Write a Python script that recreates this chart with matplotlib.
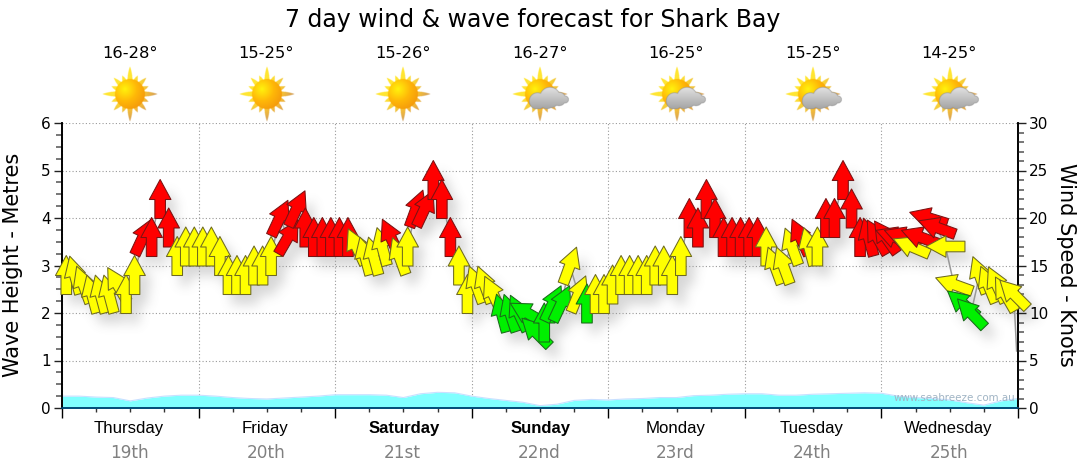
import numpy as np
import matplotlib
matplotlib.use('Agg')
import matplotlib.pyplot as plt
from matplotlib.collections import PolyCollection
from matplotlib.figure import Figure
from matplotlib.backends.backend_agg import FigureCanvasAgg
from matplotlib.transforms import IdentityTransform
from matplotlib.ticker import MultipleLocator

TITLE = '7 day wind & wave forecast for Shark Bay'
days = ['Thursday', 'Friday', 'Saturday', 'Sunday', 'Monday', 'Tuesday', 'Wednesday']
dates = ['19th', '20th', '21st', '22nd', '23rd', '24th', '25th']
weekend = ['Saturday', 'Sunday']
temps = ['16-28°', '15-25°', '15-26°', '16-27°', '16-25°', '15-25°', '14-25°']
cloudy = [False, False, False, True, True, True, True]

# wind speed (knots) of each arrow, 16 per day
speed_thu = [14, 14, 13, 12, 12, 12, 13, 12, 14, 18, 18, 22, 19, 16, 17, 17]
speed_fri = [17, 17, 16, 14, 14, 14, 15, 15, 16, 20, 18, 21, 19, 18, 18, 18]
speed_sat = [18, 18, 17, 16, 16, 17, 18, 16, 17, 21, 21, 24, 22, 18, 15, 12]
speed_sun = [13, 13, 12, 10, 10, 10, 10, 8, 9, 11, 11, 15, 12, 11, 12, 12]
speed_mon = [13, 14, 14, 14, 14, 15, 15, 14, 16, 20, 19, 22, 20, 18, 18, 18]
speed_tue = [18, 18, 17, 15, 15, 17, 18, 17, 17, 20, 20, 24, 21, 18, 18, 18]
speed_wed = [18, 18, 18, 17, 18, 20, 19, 17, 13, 11, 10, 14, 13, 13, 12, 12]

# heading of each arrow, degrees clockwise from straight up
head_thu = [0, -15, -20, -15, -15, -15, -30, 0, 0, 25, 0, 0, 0, 0, 0, 0]
head_fri = [0, 0, 0, 0, 0, 0, 0, 0, 0, 25, 30, 25, 0, 0, 0, 0]
head_sat = [0, 0, -25, -15, -15, -15, -25, -20, 0, 20, 25, 0, 0, 0, 0, 0]
head_sun = [-20, -20, -25, -15, -18, -25, -60, -45, 0, 25, 25, 20, 22, 0, 0, 0]
head_mon = [0, 0, 0, 0, 0, 0, 0, 0, 0, 0, 0, 0, 0, 0, 0, 0]
head_tue = [0, 0, 0, -20, -20, -20, -25, -15, 0, 0, 0, 0, 0, 0, -15, -30]
head_wed = [-35, -70, -70, -67, -70, -73, -70, -90, -70, -50, -44, -20, -22, -25, -30, -45]

# the thin speed line runs on past the last arrow
line_end_speed = [6]

# wave height (metres), every 3 hours
wave = [.25, .25, .23, .22, .15, .21, .25, .27, .27, .25, .22, .20, .19, .21, .23, .25,
        .28, .28, .28, .27, .22, .30, .33, .32, .25, .20, .16, .12, .05, .08, .16, .18,
        .17, .19, .20, .22, .22, .26, .27, .29, .30, .30, .27, .27, .29, .30, .31, .32,
        .31, .25, .22, .20, .17, .11, .06, .15, .20]

speed = speed_thu + speed_fri + speed_sat + speed_sun + speed_mon + speed_tue + speed_wed
heading = head_thu + head_fri + head_sat + head_sun + head_mon + head_tue + head_wed

W, H = 1080, 475
L, R, T, B = 62, 1018, 123, 408
POS = [L / W, 1 - B / H, (R - L) / W, (B - T) / H]

plt.rcParams['font.family'] = 'DejaVu Sans'
fig = plt.figure(figsize=(W / 100, H / 100), dpi=100, facecolor='white')
ax = fig.add_axes(POS)
ax.patch.set_alpha(0)
ax2 = ax.twinx()
ax2.patch.set_alpha(0)
ax.set_xlim(0, 7)
ax.set_ylim(0, 6)
ax2.set_ylim(0, 30)

# wave area
tw = np.arange(len(wave)) * 0.125
ax.fill_between(tw, 0, wave, color='#80FFFF', lw=0, zorder=1)
ax.plot(tw, wave, color='#C8E0FF', lw=0.8, zorder=1.1)

# grid
ax.set_axisbelow(True)
ax.xaxis.set_major_locator(MultipleLocator(1))
ax.xaxis.set_minor_locator(MultipleLocator(0.25))
ax.yaxis.set_major_locator(MultipleLocator(1))
ax.yaxis.set_minor_locator(MultipleLocator(0.25))
ax2.yaxis.set_major_locator(MultipleLocator(5))
ax2.yaxis.set_minor_locator(MultipleLocator(1))
ax.grid(True, which='major', color='#999999', lw=0.8, ls=(0, (1, 2)))
ax.tick_params(axis='x', which='major', length=7, width=1, color='black', labelbottom=False, direction='out')
ax.tick_params(axis='x', which='minor', length=3, width=1, color='#333333')
ax.tick_params(axis='y', which='major', length=6, width=1, color='#222222', labelsize=11, pad=2)
ax.tick_params(axis='y', which='minor', length=4, width=1.4, color='#777777')
ax2.tick_params(axis='y', which='major', length=6, width=1, color='#222222', labelsize=11, pad=2)
ax2.tick_params(axis='y', which='minor', length=4, width=1.4, color='#777777')
for a in (ax, ax2):
    a.spines['top'].set_visible(False)
    a.spines['left'].set_linewidth(1.2)
    a.spines['right'].set_linewidth(1.2)
    a.spines['bottom'].set_color('#004B78')
    a.spines['bottom'].set_linewidth(1.2)

# arrows
ARROW_LEN, HEAD_LEN, HEAD_HW, SHAFT_HW = 39.0, 20.0, 10.8, 5.3
base = np.array([(-SHAFT_HW, -ARROW_LEN / 2), (SHAFT_HW, -ARROW_LEN / 2),
                 (SHAFT_HW, ARROW_LEN / 2 - HEAD_LEN), (HEAD_HW, ARROW_LEN / 2 - HEAD_LEN),
                 (0, ARROW_LEN / 2), (-HEAD_HW, ARROW_LEN / 2 - HEAD_LEN),
                 (-SHAFT_HW, ARROW_LEN / 2 - HEAD_LEN)])


def shape(deg):
    a = np.radians(deg)
    rot = np.array([[np.cos(a), np.sin(a)], [-np.sin(a), np.cos(a)]])
    return base @ rot.T


def colour(s):
    return '#00F000' if s <= 11 else ('#FFFF00' if s <= 17 else '#FF0000')


def edge(s):
    return '#1A6A1A' if s <= 11 else ('#6E6A20' if s <= 17 else '#7A1212')


verts = [shape(h) for h in heading]
times = (np.arange(len(speed)) + 0.5) / 16
offsets = np.column_stack([times, speed])

ax2.plot(list(times) + [6.99], speed + line_end_speed, color='#999999', lw=1.1, zorder=2, clip_on=False)
arrows = PolyCollection(verts, offsets=offsets, offset_transform=ax2.transData,
                        transform=IdentityTransform(), facecolors=[colour(s) for s in speed],
                        edgecolors=[edge(s) for s in speed], linewidths=0.75, zorder=3)
arrows.set_clip_on(False)
ax2.add_collection(arrows)

# soft drop shadow of the arrows, rendered off-screen from the same collection
f2 = Figure(figsize=(W / 100, H / 100), dpi=100)
f2.patch.set_alpha(0)
FigureCanvasAgg(f2)
a2 = f2.add_axes(POS)
a2.set_xlim(0, 7)
a2.set_ylim(0, 30)
a2.axis('off')
sh = PolyCollection(verts, offsets=offsets, offset_transform=a2.transData,
                    transform=IdentityTransform(), facecolors='k', edgecolors='none')
sh.set_clip_on(False)
a2.add_collection(sh)
f2.canvas.draw()
al = np.asarray(f2.canvas.buffer_rgba())[:, :, 3].astype(float) / 255
al = np.roll(np.roll(al, 8, axis=1), 10, axis=0)
k = np.ones(11) / 11
for _ in range(3):
    al = np.apply_along_axis(lambda v: np.convolve(v, k, 'same'), 0, al)
    al = np.apply_along_axis(lambda v: np.convolve(v, k, 'same'), 1, al)
rgba = np.zeros(al.shape + (4,))
rgba[..., :3] = 0.4
rgba[..., 3] = al * 0.26
fig.figimage(rgba, 0, 0, origin='upper', zorder=-1)

# overlay in pixel coordinates for texts and icons
ov = fig.add_axes([0, 0, 1, 1], zorder=5)
ov.axis('off')
ov.patch.set_alpha(0)


def sun_image(cx, cy):
    S = 32
    n = 4 * 2 * S
    g = (np.arange(n) + 0.5) / 4 - S
    X, Y = np.meshgrid(g, g)
    r = np.hypot(X, Y)
    th = np.degrees(np.arctan2(Y, X)) % 360
    env = np.zeros_like(r)
    for i in range(16):
        ang = i * 22.5
        L_ = 27.5 if i % 4 == 0 else (23 if i % 2 == 0 else 20)
        w = 11.0
        d = np.abs((th - ang + 180) % 360 - 180)
        env = np.maximum(env, 13 + (L_ - 13) * np.clip(1 - d / w, 0, 1))
    img = np.zeros((n, n, 4))
    shade = np.clip((X + Y) / 44 + 0.35, 0, 1)
    f = np.clip((r - 14) / 14, 0, 1)[..., None]
    yel = np.array([1.0, 0.90, 0.20])
    ora = np.array([0.96, 0.70, 0.20])
    tip = np.array([0.80, 0.62, 0.40])
    col = yel + (ora - yel) * shade[..., None]
    img[..., :3] = col * (1 - f) + tip * f * shade[..., None] + col * f * (1 - shade[..., None])
    img[..., 3] = (r < env).astype(float)
    # disc
    rr = np.hypot(X + 5, Y + 5)
    t = np.clip(rr / 24, 0, 1)[..., None]
    c1 = np.array([1.0, 0.95, 0.05])
    c2 = np.array([1.0, 0.72, 0.03])
    c3 = np.array([0.95, 0.58, 0.05])
    disc = np.where(t < 0.5, c1 + (c2 - c1) * t * 2, c2 + (c3 - c2) * (t - 0.5) * 2)
    m = r < 15
    img[m, :3] = disc[m]
    img[m, 3] = 1
    ov.imshow(img, extent=[cx - S, cx + S, cy + S, cy - S], aspect='auto', interpolation='bilinear', zorder=2)


def cloud_image(cx, cy):
    x0, x1, y0, y1 = cx - 16, cx + 32, cy - 12, cy + 20
    sx, sy = int(4 * (x1 - x0)), int(4 * (y1 - y0))
    X, Y = np.meshgrid(x0 + (np.arange(sx) + .5) / 4, y0 + (np.arange(sy) + .5) / 4)
    blobs = [(10, 3.5, 10.5), (-2.5, 7, 8.5), (19, 5, 7.0), (25, 5.5, 3.8), (7, 8, 7)]
    d = np.max([rad - np.hypot(X - (cx + bx), Y - (cy + by)) for bx, by, rad in blobs], axis=0)
    d = np.minimum(d, cy + 15 - Y)
    t = np.clip((Y - (cy - 8)) / 23, 0, 1)[..., None]
    c = np.array([0.90, 0.90, 0.90]) + (np.array([0.64, 0.64, 0.64]) - np.array([0.90, 0.90, 0.90])) * t
    e = np.clip(d / 1.0, 0, 1)[..., None]
    img = np.zeros((sy, sx, 4))
    img[..., :3] = c * e + np.array([0.58, 0.58, 0.58]) * (1 - e)
    img[..., 3] = (d > 0).astype(float)
    ov.imshow(img, extent=[x0, x1, y1, y0], aspect='auto', interpolation='bilinear', zorder=3)


for i, day in enumerate(days):
    cx = L + (i + 0.5) * (R - L) / 7
    ov.text(cx - 0.5, 54, temps[i], ha='center', va='center', fontsize=11.8, color='black')
    sun_image(cx, 94)
    if cloudy[i]:
        cloud_image(cx, 94)
    bold = day in weekend
    ov.text(cx + (0.5 if bold else -1.5), 429, day, ha='center', va='center', fontsize=12.1, color='black',
            family='Liberation Sans', fontweight='bold' if bold else 'normal')
    ov.text(cx - 1, 453.5, dates[i], ha='center', va='center', fontsize=12.2, color='#808080')

ov.set_xlim(0, W)
ov.set_ylim(H, 0)
ov.text(533, 20.5, TITLE, ha='center', va='center', fontsize=17.0, color='black')
ov.text(13, 265, 'Wave Height - Metres', rotation=90, ha='center', va='center', fontsize=15.0)
ov.text(1066, 265, 'Wind Speed - Knots', rotation=270, ha='center', va='center', fontsize=15.0)
ov.text(954, 398, 'www.seabreeze.com.au', ha='center', va='center', fontsize=7.4, color='#A0B4C4')

fig.savefig('out.png', dpi=100, facecolor='white')
